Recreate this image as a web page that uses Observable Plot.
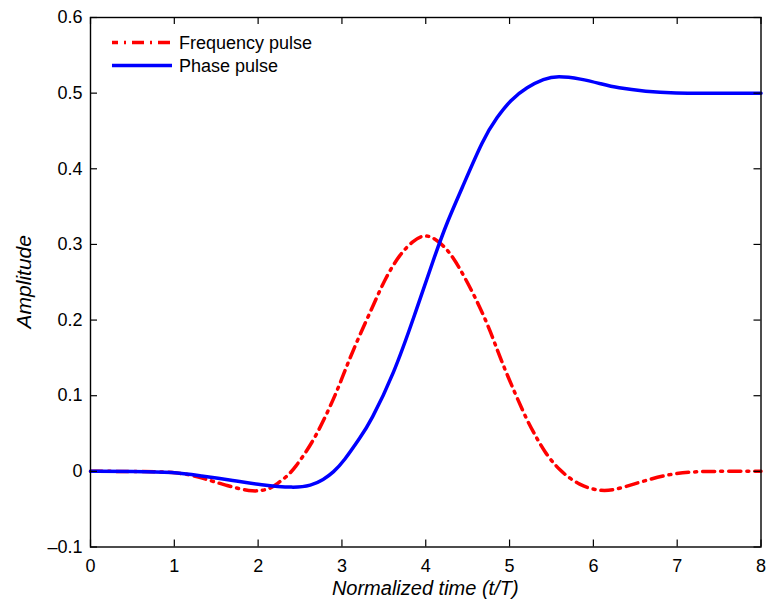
<!DOCTYPE html>
<html><head><meta charset="utf-8">
<script src="https://cdn.jsdelivr.net/npm/d3@7"></script>
<script src="https://cdn.jsdelivr.net/npm/@observablehq/plot@0.6"></script>
<style>body{margin:0;background:#fff;} svg{display:block}</style>
</head><body><div id="chart"></div>
<script>
const xTicks = [0, 1, 2, 3, 4, 5, 6, 7, 8];
const yTicks = [-0.1, 0, 0.1, 0.2, 0.3, 0.4, 0.5, 0.6];
const seriesNames = ["Frequency pulse", "Phase pulse"];
const xLabel = "Normalized time (t/T)";
const yLabel = "Amplitude";

const freqT = [0, 0.5, 1.07, 1.31, 1.63, 1.95, 2.15, 2.23, 2.33, 2.43, 2.65, 2.82, 2.96, 3.08, 3.22, 3.38, 3.52, 3.69, 3.85, 3.98, 4.1, 4.28, 4.47, 4.63, 4.77, 4.89, 5.07, 5.21, 5.31, 5.41, 5.59, 5.84, 6.07, 6.25, 6.56, 6.92, 7.24, 7.6, 8];
const freqV = [0, 0, -0.001, -0.008, -0.019, -0.028, -0.023, -0.016, -0.008, 0.003, 0.038, 0.076, 0.111, 0.146, 0.182, 0.221, 0.256, 0.287, 0.305, 0.313, 0.309, 0.292, 0.256, 0.221, 0.186, 0.149, 0.102, 0.067, 0.047, 0.027, 0.001, -0.019, -0.026, -0.025, -0.014, -0.003, 0, 0, 0];

const phaseT = [0, 0.5, 1.0, 1.31, 1.71, 2.03, 2.43, 2.63, 2.78, 2.9, 3.02, 3.22, 3.34, 3.62, 3.86, 4.1, 4.26, 4.42, 4.69, 4.85, 5.01, 5.21, 5.41, 5.57, 5.85, 6.1, 6.28, 6.63, 6.95, 7.5, 8];
const phaseV = [0, 0, -0.001, -0.006, -0.012, -0.018, -0.022, -0.019, -0.011, -0.001, 0.013, 0.045, 0.065, 0.129, 0.204, 0.283, 0.331, 0.371, 0.441, 0.468, 0.491, 0.508, 0.519, 0.523, 0.519, 0.512, 0.507, 0.502, 0.500, 0.500, 0.500];

const freqData = freqT.map((t, i) => ({t, v: freqV[i]}));
const phaseData = phaseT.map((t, i) => ({t, v: phaseV[i]}));

const font = "'Liberation Sans', Arial, Helvetica, sans-serif";
const redDash = "12,6,2,6";
const W = 766, H = 604, mL = 90, mR = 5.5, mT = 17, mB = 57.5;
const xDom = [0, 8], yDom = [-0.1, 0.6];
const tickLen = 7;
const innerW = W - mL - mR, innerH = H - mT - mB;
const dyTick = tickLen * (yDom[1] - yDom[0]) / innerH;
const dxTick = tickLen * (xDom[1] - xDom[0]) / innerW;

const chart = Plot.plot({
  width: W, height: H,
  marginLeft: mL, marginRight: mR, marginTop: mT, marginBottom: mB,
  style: {fontFamily: font, fontSize: "18px", background: "white", color: "black", overflow: "visible"},
  x: {domain: xDom, label: null},
  y: {domain: yDom, label: null},
  marks: [
    Plot.line(freqData, {x: "t", y: "v", stroke: "#ff0000", strokeWidth: 3.5, strokeDasharray: redDash, curve: "basis"}),
    Plot.line(phaseData, {x: "t", y: "v", stroke: "#0000ff", strokeWidth: 3.5, curve: "basis"}),
    Plot.ruleX(xTicks, {x: d => d, y1: yDom[0], y2: yDom[0] + dyTick, stroke: "black", strokeWidth: 1.2}),
    Plot.ruleX(xTicks, {x: d => d, y1: yDom[1], y2: yDom[1] - dyTick, stroke: "black", strokeWidth: 1.2}),
    Plot.ruleY(yTicks, {y: d => d, x1: xDom[0], x2: xDom[0] + dxTick, stroke: "black", strokeWidth: 1.2}),
    Plot.ruleY(yTicks, {y: d => d, x1: xDom[1], x2: xDom[1] - dxTick, stroke: "black", strokeWidth: 1.2}),
    Plot.frame({stroke: "black", strokeWidth: 1.4}),
    Plot.axisX(xTicks, {anchor: "bottom", tickSize: 0, tickPadding: 12, tickFormat: d3.format("d"), label: null}),
    Plot.axisY(yTicks, {anchor: "left", tickSize: 0, tickPadding: 8, tickFormat: d => d === 0 ? "0" : d3.format(".1f")(d).replace("-", "\u2013").replace("\u2212", "\u2013"), label: null})
  ]
});

const svg = d3.select(chart);
const xs = chart.scale("x"), ys = chart.scale("y");
const cx = (xs.apply(xDom[0]) + xs.apply(xDom[1])) / 2;
const cy = (ys.apply(yDom[0]) + ys.apply(yDom[1])) / 2;

svg.append("text").attr("x", cx).attr("y", 595).attr("text-anchor", "middle")
  .attr("font-family", font).attr("font-size", 20).attr("font-style", "italic").attr("fill", "black").text(xLabel);
svg.append("text").attr("transform", `translate(31,${cy}) rotate(-90)`).attr("text-anchor", "middle")
  .attr("font-family", font).attr("font-size", 21).attr("font-style", "italic").attr("fill", "black").text(yLabel);

const leg = svg.append("g");
const legItems = [
  {name: seriesNames[0], color: "#ff0000", dash: redDash, y: 42.5},
  {name: seriesNames[1], color: "#0000ff", dash: null, y: 65.5}
];
legItems.forEach(it => {
  leg.append("line").attr("x1", 112).attr("x2", 172).attr("y1", it.y).attr("y2", it.y)
    .attr("stroke", it.color).attr("stroke-width", 3.5).attr("stroke-dasharray", it.dash).attr("stroke-dashoffset", it.dash ? 6 : null);
  leg.append("text").attr("x", 179).attr("y", it.y).attr("dy", "0.35em").attr("text-anchor", "start")
    .attr("font-family", font).attr("font-size", 18).attr("fill", "black").text(it.name);
});

document.getElementById("chart").appendChild(chart);
</script>
</body></html>
